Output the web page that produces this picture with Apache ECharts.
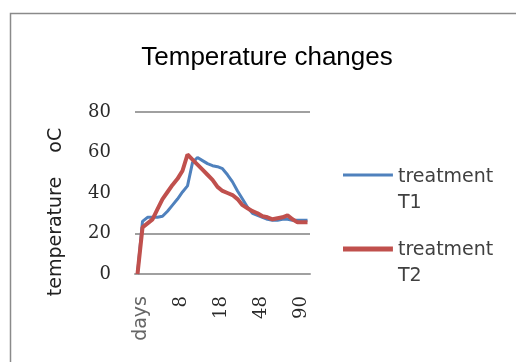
<!DOCTYPE html>
<html>
<head>
<meta charset="utf-8">
<script src="https://cdn.jsdelivr.net/npm/echarts@6/dist/echarts.min.js"></script>
<style>html,body{margin:0;padding:0;background:#fff;}#c{width:516px;height:362px;}</style>
</head>
<body>
<div id="c"></div>
<script>
var categories = ['days','1','2','3','4','5','6','7','8','9','10','11','12','14','15','16','18','22','26','30','33','37','41','45','48','53','58','64','69','74','80','85','90','95','100'];
var t1 = [0,26,28,28,28,28.5,31,34,37,40.5,43.5,55,57.5,56,54.5,53.5,53,52,49,45.5,41,37,33,30,29,28,27,26.5,26.5,27,27,26.5,26.5,26.5,26.5];
var t2 = [0,23,25,27,32,37,40.5,44,47,51,59,56.5,54,51.5,49,46.5,43,41,40,39,37,34,32.5,31,30,28.5,28,27,27.5,28,29,27,25.5,25.5,25.5];
var yTicks = [0,20,40,60,80];
var seriesNames = ['treatment T1','treatment T2'];

var chart = echarts.init(document.getElementById('c'), null, {renderer:'canvas'});
var legendText = {fontFamily:'DejaVu Sans', fontSize:19, color:'#404040', lineHeight:26};
function legendFmt(n){ return n.replace(' ', '\n'); }
chart.setOption({
  animation:false,
  title:{text:'Temperature changes', left:262, top:40, textAlign:'center',
    textStyle:{fontFamily:'Liberation Sans', fontSize:26, fontWeight:'normal', color:'#000'}},
  graphic:[{type:'rect', left:8, top:11, shape:{width:600, height:600},
    style:{fill:'none', stroke:'#8a8a8a', lineWidth:1.5}, silent:true}],
  grid:{left:135, right:206, top:112, bottom:88, outerBoundsMode:'none'},
  legend:[
    {data:[{name:seriesNames[0], icon:'path://M0,0H50V3H0Z M0,33H0.05V33.05H0Z'}], orient:'vertical', left:343, top:164, padding:0,
     itemWidth:50, itemHeight:33, selectedMode:false, formatter:legendFmt, textStyle:legendText},
    {data:[{name:seriesNames[1], icon:'path://M0,0H50V5H0Z M0,33H0.05V33.05H0Z'}], orient:'vertical', left:343, top:237, padding:0,
     itemWidth:50, itemHeight:33, selectedMode:false, formatter:legendFmt, textStyle:legendText}
  ],
  xAxis:{type:'category', data:categories, boundaryGap:true,
    axisLine:{show:true, lineStyle:{color:'#a0a0a0', width:2}},
    axisTick:{show:false},
    axisLabel:{interval:7, rotate:90, margin:22, fontFamily:'DejaVu Serif', fontSize:18, color:'#2a2a2a',
      padding:[8,0,0,0],
      formatter:function(v){ return v==='days' ? '{d|days}' : v; },
      rich:{d:{fontFamily:'DejaVu Sans', fontSize:19, color:'#666'}}},
    splitLine:{show:false}},
  yAxis:{type:'value', min:0, max:80, interval:20,
    name:'temperature    oC', nameLocation:'middle', nameGap:69,
    nameTextStyle:{fontFamily:'DejaVu Sans', fontSize:19, color:'#222', padding:[0,38,0,0]},
    axisLine:{show:false}, axisTick:{show:false},
    axisLabel:{margin:24, fontFamily:'DejaVu Serif', fontSize:18, color:'#2a2a2a',
      formatter:function(v){ return yTicks.indexOf(v)>=0 ? String(v) : ''; }},
    splitLine:{show:true, lineStyle:{color:['#a0a0a0','#a0a0a0','rgba(0,0,0,0)','rgba(0,0,0,0)','#a0a0a0'], width:2}}},
  series:[
    {name:seriesNames[0], type:'line', data:t1, symbol:'none', color:'#4f81bd', lineStyle:{width:3, color:'#4f81bd'}},
    {name:seriesNames[1], type:'line', data:t2, symbol:'none', color:'#c0504d', lineStyle:{width:4, color:'#c0504d'}}
  ]
});
</script>
</body>
</html>
